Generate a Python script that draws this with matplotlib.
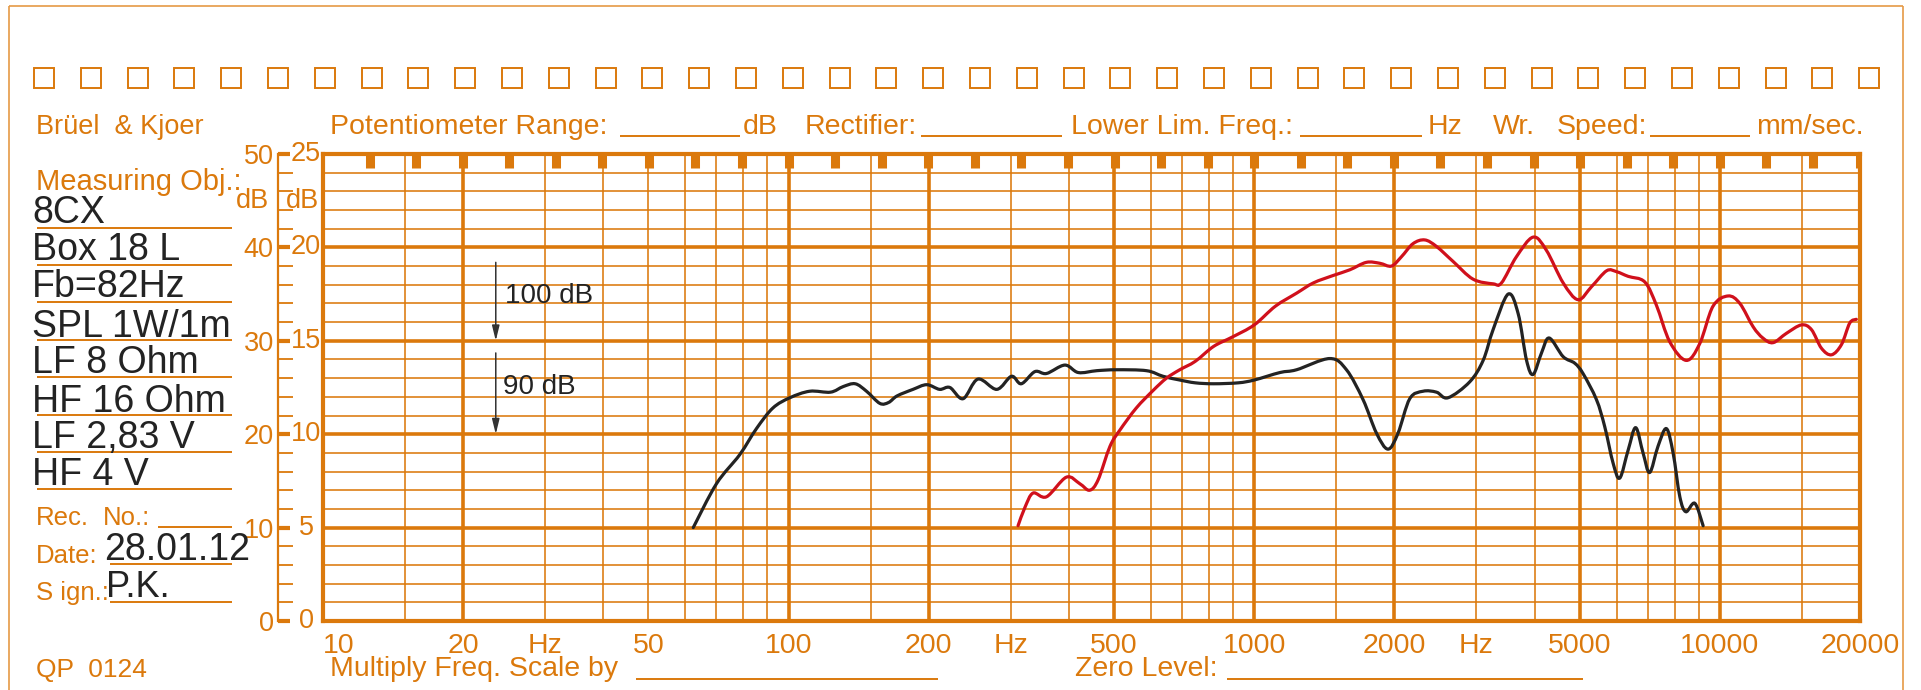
import numpy as np
import matplotlib
matplotlib.use('Agg')
import matplotlib.pyplot as plt
from matplotlib.lines import Line2D
from matplotlib.patches import Rectangle, PathPatch
from matplotlib.path import Path
from matplotlib.ticker import MultipleLocator, NullFormatter
import matplotlib.transforms as mtransforms

plt.rcParams['font.family'] = ['Liberation Sans', 'DejaVu Sans']

# ---------------- data ----------------
black_freq = [62.4, 70, 78.5, 85.3, 92.5, 100.6, 111, 123, 131, 139, 147, 157, 164, 171,
              185, 198, 211, 222, 237, 255, 280, 301, 316, 338, 358, 392, 419, 459, 506,
              587, 637, 692, 747, 818, 924, 1000, 1135, 1233, 1453, 1578, 1713, 1831,
              1938, 2036, 2158, 2305, 2463, 2607, 2902, 3102, 3259, 3510, 3689, 3845,
              3972, 4140, 4300, 4608, 4880, 5083, 5433, 5660, 5899, 6096, 6355, 6596,
              6840, 7068, 7365, 7676, 7936, 8205, 8451, 8838, 9207]
black_db = [10.0, 14.7, 17.8, 20.6, 22.8, 23.9, 24.6, 24.5, 25.1, 25.4, 24.6, 23.3, 23.4, 24.1,
            24.8, 25.3, 24.8, 25.0, 23.8, 25.9, 24.8, 26.2, 25.4, 26.7, 26.5, 27.4, 26.6, 26.8, 26.9,
            26.8, 26.2, 25.8, 25.5, 25.4, 25.5, 25.8, 26.6, 26.9, 28.1, 26.9, 23.7, 20.1,
            18.4, 20.1, 23.8, 24.6, 24.5, 23.9, 25.6, 27.9, 31.2, 35.0, 32.9, 27.9,
            26.4, 28.7, 30.3, 28.3, 27.6, 26.5, 23.7, 20.8, 16.9, 15.3, 18.3, 20.7,
            18.0, 15.9, 18.7, 20.6, 18.0, 13.3, 11.7, 12.6, 10.2]

red_freq = [311, 322, 335, 358, 395, 422, 443, 462, 490, 514, 558, 607, 648, 692, 747, 818,
            897, 1000, 1110, 1233, 1340, 1479, 1604, 1741, 1861, 1971, 2071, 2193, 2324,
            2463, 2673, 2951, 3259, 3397, 3657, 3972, 4240, 4608, 4961, 5303, 5714, 6000,
            6355, 6899, 7309, 7805, 8472, 9055, 9667, 10415, 11040, 11790, 12370, 13010,
            13900, 14970, 15730, 16530, 17370, 18250, 19010, 19640]
red_db = [10.2, 12.2, 13.7, 13.3, 15.4, 14.7, 14.0, 15.1, 18.7, 20.4, 22.8, 24.7, 26.0, 26.9, 27.8, 29.4,
          30.4, 31.7, 33.7, 35.1, 36.2, 37.0, 37.6, 38.4, 38.3, 38.0, 39.0, 40.4, 40.8,
          40.1, 38.5, 36.6, 36.1, 36.2, 39.0, 41.1, 39.7, 36.2, 34.4, 35.8, 37.5, 37.4,
          36.9, 36.3, 33.8, 29.9, 27.9, 29.7, 33.7, 34.8, 34.0, 31.5, 30.3, 29.8,
          30.8, 31.7, 31.2, 29.2, 28.5, 29.6, 31.9, 32.3]

x_tick_freqs = [10, 20, 30, 50, 100, 200, 300, 500, 1000, 2000, 3000, 5000, 10000, 20000]
x_tick_labels = ['10', '20', 'Hz', '50', '100', '200', 'Hz', '500', '1000', '2000', 'Hz',
                 '5000', '10000', '20000']
left_scale_vals = [0, 10, 20, 30, 40, 50]
right_scale_labels = ['0', '5', '10', '15', '20', '25']

info_lines = ['8CX', 'Box 18 L', 'Fb=82Hz', 'SPL 1W/1m', 'LF 8 Ohm', 'HF 16 Ohm',
              'LF 2,83 V', 'HF 4 V']
date_text = '28.01.12'
sign_text = 'P.K.'
ref_labels = ['100 dB', '90 dB']

# ---------------- style ----------------
W, H = 1921, 690
OR = '#DB790C'
OR_L = '#E59A45'
INK = '#232323'
RED = '#D0101C'

fig = plt.figure(figsize=(W / 100, H / 100), dpi=100)
fig.patch.set_facecolor('white')


def fx(x):
    return x / W


def fy(y):
    return 1 - y / H


def ftext(x, y, s, size, color=OR, ha='left', va='baseline', **kw):
    fig.text(fx(x), fy(y), s, fontsize=size, color=color, ha=ha, va=va, **kw)


def fline(x0, x1, y0, y1, color=OR, lw=1.3):
    fig.add_artist(Line2D([fx(x0), fx(x1)], [fy(y0), fy(y1)], color=color, lw=lw,
                          solid_capstyle='butt'))


def smooth_path(freqs, vals):
    """Bezier (Catmull-Rom) path through the read points, built in log-frequency space."""
    u = np.log10(np.asarray(freqs, float))
    v = np.asarray(vals, float)
    P = np.column_stack([u, v])
    Pe = np.vstack([P[0], P, P[-1]])
    verts = [P[0]]
    codes = [Path.MOVETO]
    for i in range(len(P) - 1):
        p0, p1, p2, p3 = Pe[i], Pe[i + 1], Pe[i + 2], Pe[i + 3]
        c1 = p1 + (p2 - p0) / 6.0
        c2 = p2 - (p3 - p1) / 6.0
        verts += [c1, c2, p2]
        codes += [Path.CURVE4] * 3
    verts = np.array(verts)
    verts[:, 0] = 10 ** verts[:, 0]
    return Path(verts, codes)


# page border (left, top, right)
fline(9, 9, 6, 690, color=OR_L, lw=1.2)
fline(9, 1903, 6, 6, color=OR_L, lw=1.2)
fline(1903, 1903, 6, 690, color=OR_L, lw=1.2)

# row of squares
for k in range(40):
    cx = 44 + k * 46.8
    fig.add_artist(Rectangle((fx(cx - 10), fy(88)), fx(20), 20 / H, fill=False,
                             edgecolor=OR, lw=1.4, transform=fig.transFigure))

# ---------------- main axes ----------------
ax = fig.add_axes([fx(323), fy(621), fx(1860) - fx(323), fy(154) - fy(621)])
ax.set_xscale('log')
ax.set_xlim(10, 20000)
ax.set_ylim(0, 50)

thick_f = {20, 100, 200, 500, 1000, 2000, 5000, 10000}
for dec in [10, 100, 1000, 10000]:
    for m in [1, 1.5, 2, 3, 4, 5, 6, 7, 8, 9]:
        f = dec * m
        if 10 < f < 20000:
            if f in thick_f:
                ax.axvline(f, color=OR, lw=2.6, zorder=1)
            else:
                ax.axvline(f, color=OR, lw=1.15, zorder=1)
for v in range(2, 50, 2):
    if v % 10 == 0:
        ax.axhline(v, color=OR, lw=2.6, zorder=1)
    else:
        ax.axhline(v, color=OR, lw=1.15, zorder=1)

for sp in ax.spines.values():
    sp.set_color(OR)
    sp.set_linewidth(3.0)

# timing marks under top border
marks = [10 ** (1.1 + 0.1 * k) for k in range(33)]
ax.vlines(marks, 48.45, 50, color=OR, lw=6.5, zorder=2)

ax.set_xticks(x_tick_freqs)
ax.set_xticklabels(x_tick_labels)
ax.xaxis.set_minor_formatter(NullFormatter())
ax.tick_params(axis='x', which='both', length=0, pad=8.5, labelsize=20.5, labelcolor=OR)
ax.get_xticklabels()[0].set_horizontalalignment('left')
ax.set_yticks([])
ax.tick_params(axis='y', which='both', length=0)

ax.add_patch(PathPatch(smooth_path(black_freq, black_db), fill=False, edgecolor=INK,
                       lw=2.3, zorder=4, joinstyle='round', capstyle='round'))
ax.add_patch(PathPatch(smooth_path(red_freq, red_db), fill=False, edgecolor=RED,
                       lw=2.3, zorder=4, joinstyle='round', capstyle='round'))

# reference arrows
for (y0, y1) in [(38.4, 30), (28.7, 20)]:
    ax.annotate('', xy=(23.5, y1), xytext=(23.5, y0),
                arrowprops=dict(arrowstyle='-|>,head_length=0.9,head_width=0.22',
                                color='#333333', lw=1.1, shrinkA=0, shrinkB=0,
                                mutation_scale=10), zorder=5)
ax.text(24.6, 34.8, ref_labels[0], fontsize=20, color=INK, va='center', ha='left', zorder=5)
ax.text(24.35, 25.05, ref_labels[1], fontsize=20, color=INK, va='center', ha='left', zorder=5)

# ---------------- left dB scale ----------------
sax = fig.add_axes([fx(278), fy(621), fx(323) - fx(278), fy(154) - fy(621)])
sax.set_ylim(0, 50)
sax.set_xlim(0, 1)
sax.patch.set_visible(False)
for k in ['right', 'top', 'bottom']:
    sax.spines[k].set_visible(False)
sax.spines['left'].set_color(OR)
sax.spines['left'].set_linewidth(1.6)
sax.set_xticks([])
sax.set_yticks(left_scale_vals)
sax.set_yticklabels([str(v) for v in left_scale_vals])
sax.yaxis.set_minor_locator(MultipleLocator(2))
sax.tick_params(axis='y', which='major', direction='in', length=8.5, width=3.0,
                color=OR, labelcolor=OR, labelsize=19.5, pad=3)
sax.tick_params(axis='y', which='minor', direction='in', length=10.5, width=1.3, color=OR)
btr = mtransforms.blended_transform_factory(fig.transFigure, sax.transData)
for v, lab in zip(left_scale_vals, right_scale_labels):
    sax.text(fx(306), v, lab, transform=btr, fontsize=19.5, color=OR, ha='center',
             va='center', clip_on=False)
ftext(269, 208, 'dB', 19.5, ha='right')
ftext(286, 208, 'dB', 19.5)

# ---------------- header ----------------
ftext(36, 134, 'Brüel  & Kjoer', 19.5)
ftext(330, 134, 'Potentiometer Range:', 20.5)
fline(620, 740, 136, 136, lw=1.4)
ftext(743, 134, 'dB', 20.5)
ftext(805, 134, 'Rectifier:', 20.5)
fline(921, 1062, 136, 136, lw=1.4)
ftext(1071, 134, 'Lower Lim. Freq.:', 20.5)
fline(1300, 1422, 136, 136, lw=1.4)
ftext(1428, 134, 'Hz', 20.5)
ftext(1493, 134, 'Wr.', 20.5)
ftext(1557, 134, 'Speed:', 20.5)
fline(1650, 1750, 136, 136, lw=1.4)
ftext(1756, 134, 'mm/sec.', 20.5)

# ---------------- left panel ----------------
ftext(36, 190, 'Measuring Obj.:', 21)
base_y = [222.7, 260, 296.7, 336.7, 373.3, 411.7, 448.3, 485]
line_y = [227.7, 265, 302.3, 340, 377.3, 415, 451.7, 489.3]
for s, by, ly in zip(info_lines, base_y, line_y):
    ftext(32, by, s, 27, color=INK)
    fline(37, 232, ly, ly, lw=1.4)

ftext(36, 525, 'Rec.', 18.5)
ftext(103, 525, 'No.:', 18.5)
fline(158, 232, 526.7, 526.7, lw=1.4)
ftext(36, 563, 'Date:', 18.5)
ftext(104, 560, date_text, 27, color=INK)
fline(110, 232, 564, 564, lw=1.4)
ftext(36, 600, 'S ign.:', 18.5)
ftext(106, 597, sign_text, 26, color=INK)
fline(110, 232, 601.7, 601.7, lw=1.4)
ftext(36, 677, 'QP  0124', 19)

# ---------------- bottom ----------------
ftext(330, 676, 'Multiply Freq. Scale by', 20.5)
fline(636, 938, 679, 679, lw=1.4)
ftext(1075, 676, 'Zero Level:', 20.5)
fline(1227, 1583, 679, 679, lw=1.4)

fig.savefig('out.png', dpi=100, facecolor='white')
